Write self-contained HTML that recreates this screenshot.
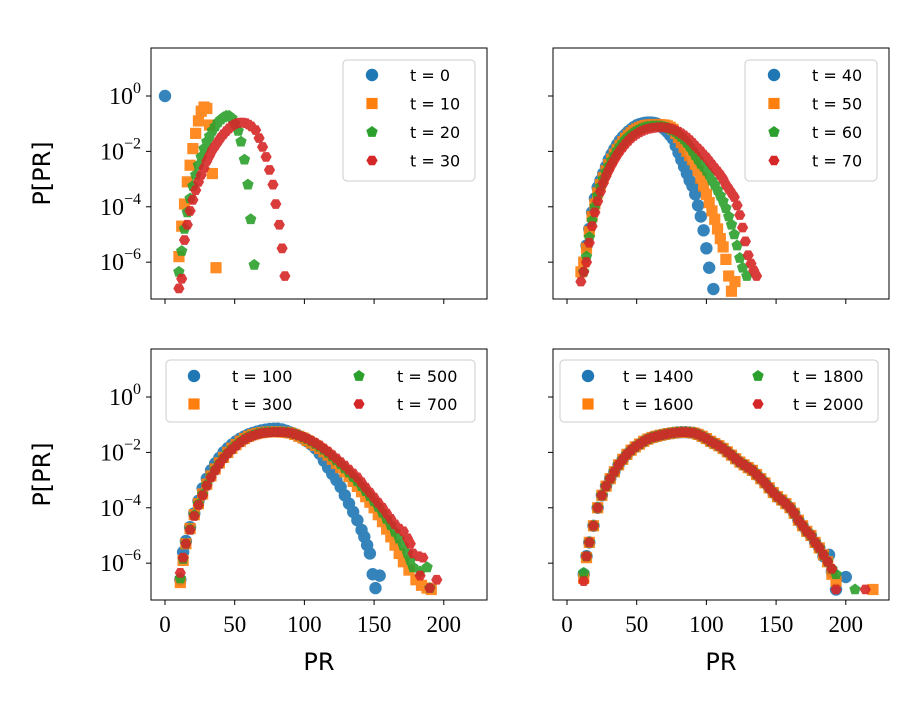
<!DOCTYPE html>
<html><head><meta charset="utf-8"><style>
html,body{margin:0;padding:0;background:#fff;}
svg{display:block;}
</style></head><body>
<svg id="chart" width="920" height="727" viewBox="0 0 920 727" xmlns="http://www.w3.org/2000/svg"></svg>
<script>
// ---- data: [PR, log10 P[PR]] ----
const tl_t0  = [[0,0]];
const tl_t10 = [[10,-5.8],[12,-4.7],[14,-3.9],[16,-3.1],[18,-2.5],[20,-1.9],[22,-1.35],[24,-0.9],[26,-0.55],[28,-0.4],[30,-0.45],[32,-1.05],[34,-2.8],[36.6,-6.2]];
const tl_t20 = [[10,-6.35],[12,-5.6],[14,-4.8],[16,-4.2],[18,-3.7],[20,-3.25],[22,-2.85],[24,-2.5],[26,-2.2],[28,-1.9],[30,-1.65],[32,-1.45],[34,-1.25],[36,-1.1],[38,-0.95],[40,-0.85],[42,-0.77],[44,-0.72],[46,-0.72],[48,-0.8],[50,-1.0],[52.5,-1.26],[54.5,-1.65],[57,-2.3],[59.5,-3.2],[61.5,-4.45],[64,-6.1]];
const tl_t30 = [[10,-6.95],[12,-6.6],[14,-5.2],[16,-4.65],[18,-4.15],[20,-3.75],[22,-3.4],[24,-3.1],[26,-2.85],[28,-2.6],[30,-2.35],[32,-2.15],[34,-1.95],[36,-1.8],[38,-1.65],[40,-1.5],[42,-1.38],[44,-1.27],[46,-1.17],[48,-1.08],[50,-1.02],[52,-0.98],[54,-0.96],[56,-0.96],[58,-0.98],[60,-1.03],[62,-1.1],[65,-1.23],[67.5,-1.52],[70,-1.84],[72.5,-2.2],[75,-2.67],[77.5,-3.2],[79.5,-3.9],[82,-4.65],[84,-5.5],[86,-6.5]];

const tr_t40 = [[14,-5.4],[16,-4.8],[18,-4.2],[20,-3.7],[22,-3.3],[24,-3.05],[26,-2.8],[28,-2.55],[30,-2.3],[32,-2.1],[34,-1.92],[36,-1.75],[38,-1.6],[40,-1.48],[42,-1.38],[44,-1.28],[46,-1.2],[48,-1.12],[50,-1.06],[52,-1.02],[54,-0.99],[56,-0.97],[58,-0.96],[60,-0.96],[62,-0.97],[64,-0.99],[66,-1.04],[68,-1.12],[70,-1.2],[72,-1.3],[74,-1.42],[76,-1.55],[78,-1.8],[80,-2.05],[82,-2.3],[84,-2.55],[86,-2.8],[88,-3.05],[90,-3.25],[92,-3.55],[94,-3.95],[96,-4.35],[98,-4.85],[100,-5.5],[102,-6.2],[105,-6.97]];
const tr_t50 = [[10,-6.35],[12,-6.0],[14,-5.5],[16,-4.9],[18,-4.35],[20,-3.9],[22,-3.5],[24,-3.2],[26,-2.95],[28,-2.7],[30,-2.48],[32,-2.28],[34,-2.1],[36,-1.93],[38,-1.78],[40,-1.65],[42,-1.53],[44,-1.42],[46,-1.33],[48,-1.25],[50,-1.19],[52,-1.14],[54,-1.1],[56,-1.07],[58,-1.05],[60,-1.04],[62,-1.03],[64,-1.03],[66,-1.03],[68,-1.04],[70,-1.05],[72,-1.08],[74,-1.13],[76,-1.2],[78,-1.35],[80,-1.5],[82,-1.68],[84,-1.85],[86,-2.0],[88,-2.15],[90,-2.3],[92,-2.47],[94,-2.7],[96,-2.97],[98,-3.25],[100,-3.55],[102,-3.85],[104,-4.15],[106,-4.45],[108,-4.8],[110,-5.15],[112,-5.45],[114,-5.9],[116,-6.5],[118,-7.05],[120.5,-6.7]];
const tr_t60 = [[12,-6.35],[14,-5.8],[16,-5.1],[18,-4.5],[20,-4.0],[22,-3.6],[24,-3.27],[26,-3.0],[28,-2.75],[30,-2.53],[32,-2.33],[34,-2.15],[36,-1.98],[38,-1.83],[40,-1.7],[42,-1.58],[44,-1.48],[46,-1.39],[48,-1.31],[50,-1.25],[52,-1.2],[54,-1.16],[56,-1.13],[58,-1.11],[60,-1.1],[62,-1.09],[64,-1.09],[66,-1.09],[68,-1.1],[70,-1.12],[72,-1.15],[74,-1.19],[76,-1.24],[78,-1.3],[80,-1.38],[82,-1.47],[84,-1.57],[86,-1.7],[88,-1.83],[90,-1.98],[92,-2.14],[94,-2.3],[96,-2.45],[98,-2.55],[100,-2.7],[102,-2.85],[104,-3.05],[106,-3.2],[108,-3.4],[110,-3.6],[112,-3.8],[114,-4.05],[116,-4.35],[118,-4.65],[120,-5.0],[122,-5.4],[124,-5.85],[126,-6.2],[129,-6.5]];
const tr_t70 = [[10,-6.7],[12,-6.35],[14,-6.0],[16,-5.3],[18,-4.7],[20,-4.2],[22,-3.8],[24,-3.45],[26,-3.15],[28,-2.9],[30,-2.68],[32,-2.48],[34,-2.3],[36,-2.13],[38,-1.98],[40,-1.85],[42,-1.73],[44,-1.62],[46,-1.52],[48,-1.44],[50,-1.37],[52,-1.31],[54,-1.26],[56,-1.22],[58,-1.19],[60,-1.17],[62,-1.15],[64,-1.14],[66,-1.13],[68,-1.13],[70,-1.14],[72,-1.15],[74,-1.17],[76,-1.2],[78,-1.24],[80,-1.29],[82,-1.35],[84,-1.42],[86,-1.5],[88,-1.59],[90,-1.69],[92,-1.8],[94,-1.9],[96,-2.0],[98,-2.12],[100,-2.22],[102,-2.35],[104,-2.48],[106,-2.6],[108,-2.72],[110,-2.85],[112,-3.0],[114,-3.2],[116,-3.35],[118,-3.5],[120,-3.65],[122,-3.95],[124,-4.3],[126,-4.75],[128,-5.25],[130,-5.75],[132,-6.05],[134,-6.3],[136,-6.5]];

const bl_t100 = [[11,-6.6],[13,-5.6],[15,-5.2],[18,-4.7],[21,-4.2],[24,-3.75],[27,-3.3],[30,-2.95],[33,-2.65],[36,-2.4],[39,-2.2],[42,-2.0],[45,-1.85],[48,-1.72],[51,-1.6],[54,-1.5],[57,-1.42],[60,-1.35],[63,-1.3],[66,-1.25],[69,-1.21],[72,-1.18],[75,-1.16],[78,-1.15],[81,-1.15],[84,-1.17],[87,-1.22],[90,-1.28],[93,-1.34],[96,-1.41],[99,-1.5],[102,-1.6],[105,-1.72],[108,-1.86],[111,-2.05],[114,-2.3],[117,-2.55],[120,-2.78],[123,-3.0],[126,-3.25],[129,-3.55],[132,-3.85],[135,-4.15],[138,-4.45],[141,-4.8],[143,-5.05],[145,-5.35],[147,-5.65],[149,-6.4],[151,-6.9],[154,-6.45]];
const bl_t300 = [[11,-6.7],[13,-5.9],[15,-5.3],[18,-4.75],[21,-4.25],[24,-3.85],[27,-3.5],[30,-3.15],[33,-2.85],[36,-2.6],[39,-2.38],[42,-2.18],[45,-2.0],[48,-1.85],[51,-1.72],[54,-1.6],[57,-1.5],[60,-1.42],[63,-1.36],[66,-1.32],[69,-1.29],[72,-1.27],[75,-1.26],[78,-1.26],[81,-1.26],[84,-1.27],[87,-1.28],[90,-1.3],[93,-1.35],[96,-1.42],[99,-1.48],[102,-1.57],[105,-1.66],[108,-1.75],[111,-1.86],[114,-1.98],[117,-2.1],[120,-2.25],[123,-2.4],[126,-2.55],[129,-2.7],[132,-2.87],[135,-3.05],[138,-3.23],[141,-3.42],[144,-3.6],[147,-3.8],[150,-4.0],[153,-4.25],[156,-4.5],[159,-4.77],[162,-5.05],[165,-5.35],[168,-5.65],[171,-5.95],[175,-6.25],[180,-6.6],[184,-6.8],[188,-6.9],[191,-6.95]];
const bl_t500 = [[11,-6.55],[13,-5.85],[15,-5.3],[18,-4.78],[21,-4.27],[24,-3.87],[27,-3.52],[30,-3.17],[33,-2.87],[36,-2.62],[39,-2.4],[42,-2.2],[45,-2.02],[48,-1.87],[51,-1.74],[54,-1.62],[57,-1.52],[60,-1.44],[63,-1.38],[66,-1.33],[69,-1.3],[72,-1.28],[75,-1.27],[78,-1.27],[81,-1.27],[84,-1.27],[87,-1.28],[90,-1.3],[93,-1.34],[96,-1.39],[99,-1.45],[102,-1.52],[105,-1.6],[108,-1.69],[111,-1.79],[114,-1.9],[117,-2.02],[120,-2.15],[123,-2.29],[126,-2.43],[129,-2.58],[132,-2.73],[135,-2.89],[138,-3.05],[141,-3.22],[144,-3.4],[147,-3.58],[150,-3.77],[153,-3.97],[156,-4.18],[159,-4.4],[162,-4.63],[165,-4.87],[168,-5.12],[171,-5.38],[174,-5.65],[176,-5.9],[178,-6.15],[183,-6.3],[188,-6.15],[190,-6.9]];
const bl_t700 = [[11,-6.35],[13,-5.8],[15,-5.3],[18,-4.8],[21,-4.3],[24,-3.9],[27,-3.55],[30,-3.2],[33,-2.9],[36,-2.65],[39,-2.42],[42,-2.22],[45,-2.04],[48,-1.89],[51,-1.76],[54,-1.64],[57,-1.54],[60,-1.46],[63,-1.4],[66,-1.35],[69,-1.31],[72,-1.29],[75,-1.28],[78,-1.27],[81,-1.27],[84,-1.27],[87,-1.28],[90,-1.3],[93,-1.34],[96,-1.39],[99,-1.44],[102,-1.5],[105,-1.58],[108,-1.66],[111,-1.75],[114,-1.86],[117,-1.97],[120,-2.1],[123,-2.22],[126,-2.35],[129,-2.48],[132,-2.62],[135,-2.76],[138,-2.9],[141,-3.08],[144,-3.27],[147,-3.45],[150,-3.63],[153,-3.82],[156,-4.0],[159,-4.2],[162,-4.4],[165,-4.6],[168,-4.75],[171,-4.85],[174,-5.1],[176,-5.3],[178,-5.65],[182,-5.75],[185,-5.8],[183,-6.45],[190,-6.9],[195,-6.6]];

const br_t1400 = [[12,-6.4],[14,-5.75],[16,-5.25],[19,-4.65],[22,-4.0],[25,-3.55],[28,-3.22],[31,-2.95],[34,-2.7],[37,-2.45],[40,-2.25],[43,-2.07],[46,-1.92],[49,-1.8],[52,-1.7],[55,-1.6],[58,-1.52],[61,-1.46],[64,-1.42],[67,-1.38],[70,-1.35],[73,-1.32],[76,-1.3],[79,-1.28],[82,-1.27],[85,-1.27],[88,-1.28],[91,-1.3],[94,-1.35],[97,-1.42],[100,-1.5],[103,-1.6],[106,-1.68],[109,-1.76],[112,-1.86],[115,-1.98],[118,-2.1],[121,-2.23],[124,-2.35],[127,-2.45],[130,-2.55],[133,-2.65],[136,-2.8],[139,-2.95],[142,-3.1],[145,-3.28],[148,-3.45],[151,-3.6],[154,-3.72],[157,-3.85],[160,-4.0],[163,-4.2],[166,-4.45],[169,-4.65],[172,-4.85],[175,-5.0],[178,-5.25],[181,-5.45],[184,-5.75],[188,-5.7],[190,-6.3],[193,-6.95],[200,-6.5]];
const br_t1600 = [[12,-6.55],[14,-5.8],[16,-5.25],[19,-4.65],[22,-4.0],[25,-3.55],[28,-3.22],[31,-2.95],[34,-2.7],[37,-2.45],[40,-2.25],[43,-2.07],[46,-1.92],[49,-1.8],[52,-1.7],[55,-1.6],[58,-1.52],[61,-1.46],[64,-1.42],[67,-1.38],[70,-1.35],[73,-1.32],[76,-1.3],[79,-1.28],[82,-1.27],[85,-1.27],[88,-1.28],[91,-1.3],[94,-1.35],[97,-1.42],[100,-1.5],[103,-1.6],[106,-1.68],[109,-1.76],[112,-1.86],[115,-1.98],[118,-2.1],[121,-2.23],[124,-2.35],[127,-2.45],[130,-2.55],[133,-2.65],[136,-2.8],[139,-2.95],[142,-3.1],[145,-3.28],[148,-3.45],[151,-3.6],[154,-3.72],[157,-3.85],[160,-4.0],[163,-4.2],[166,-4.45],[169,-4.65],[172,-4.85],[175,-5.0],[178,-5.25],[181,-5.45],[184,-5.7],[187,-5.95],[190,-6.4],[193,-6.65],[219.5,-6.95]];
const br_t1800 = [[12,-6.35],[14,-5.75],[16,-5.25],[19,-4.65],[22,-4.0],[25,-3.55],[28,-3.22],[31,-2.95],[34,-2.7],[37,-2.45],[40,-2.25],[43,-2.07],[46,-1.92],[49,-1.8],[52,-1.7],[55,-1.6],[58,-1.52],[61,-1.46],[64,-1.42],[67,-1.38],[70,-1.35],[73,-1.32],[76,-1.3],[79,-1.28],[82,-1.27],[85,-1.27],[88,-1.28],[91,-1.3],[94,-1.35],[97,-1.42],[100,-1.5],[103,-1.6],[106,-1.68],[109,-1.76],[112,-1.86],[115,-1.98],[118,-2.1],[121,-2.23],[124,-2.35],[127,-2.45],[130,-2.55],[133,-2.65],[136,-2.8],[139,-2.95],[142,-3.1],[145,-3.28],[148,-3.45],[151,-3.6],[154,-3.72],[157,-3.85],[160,-4.0],[163,-4.2],[166,-4.45],[169,-4.65],[172,-4.85],[175,-5.0],[178,-5.25],[181,-5.45],[184,-5.7],[187,-5.95],[190,-6.2],[193,-6.4],[206.6,-6.95]];
const br_t2000 = [[12,-6.65],[14,-5.75],[16,-5.25],[19,-4.65],[22,-4.0],[25,-3.55],[28,-3.22],[31,-2.95],[34,-2.7],[37,-2.45],[40,-2.25],[43,-2.07],[46,-1.92],[49,-1.8],[52,-1.7],[55,-1.6],[58,-1.52],[61,-1.46],[64,-1.42],[67,-1.38],[70,-1.35],[73,-1.32],[76,-1.3],[79,-1.28],[82,-1.27],[85,-1.27],[88,-1.28],[91,-1.3],[94,-1.35],[97,-1.42],[100,-1.5],[103,-1.6],[106,-1.68],[109,-1.76],[112,-1.86],[115,-1.98],[118,-2.1],[121,-2.23],[124,-2.35],[127,-2.45],[130,-2.55],[133,-2.65],[136,-2.8],[139,-2.95],[142,-3.1],[145,-3.28],[148,-3.45],[151,-3.6],[154,-3.72],[157,-3.85],[160,-4.0],[163,-4.2],[166,-4.45],[169,-4.65],[172,-4.85],[175,-5.0],[178,-5.25],[181,-5.45],[184,-5.7],[187,-5.95],[190,-6.2],[193,-6.95],[214,-6.95]];

const xTicks = [0,50,100,150,200];
const yTicks = [0,-2,-4,-6];
const yTickLabels = ["0","\u22122","\u22124","\u22126"];

// ---- rendering ----
const NS = "http://www.w3.org/2000/svg";
const svg = document.getElementById('chart');
const COLORS = ["#1f77b4","#ff7f0e","#2ca02c","#d62728"];
const SHAPES = ["circle","square","pentagon","hexagon"];
const XMIN = -10.04, XMAX = 231.0, YMAX = 1.733, YMIN = -7.33;

function mk(tag, attrs, parent){
  const e = document.createElementNS(NS, tag);
  for (const k in attrs) e.setAttribute(k, attrs[k]);
  (parent || svg).appendChild(e);
  return e;
}
function polyPts(cx, cy, r, n, rot){
  const p = [];
  for (let i=0;i<n;i++){ const a = rot + i*2*Math.PI/n; p.push((cx+r*Math.cos(a)).toFixed(1)+","+(cy+r*Math.sin(a)).toFixed(1)); }
  return p.join(" ");
}
function marker(g, shape, cx, cy, color){
  let e;
  if (shape==="circle") e = mk('circle',{cx:cx,cy:cy,r:6.2,fill:color},g);
  else if (shape==="square") e = mk('rect',{x:cx-5.6,y:cy-5.6,width:11.2,height:11.2,fill:color},g);
  else if (shape==="pentagon") e = mk('polygon',{points:polyPts(cx,cy,6,5,-Math.PI/2),fill:color},g);
  else e = mk('polygon',{points:polyPts(cx,cy,5.6,6,0),fill:color},g);
  return e;
}

const panels = [
  {name:"top-left", x:151, y:48, series:[tl_t0,tl_t10,tl_t20,tl_t30], labels:["t = 0","t = 10","t = 20","t = 30"], yLabels:true, xLabels:false, legend:"col", lx:343, ly:60},
  {name:"top-right", x:553, y:48, series:[tr_t40,tr_t50,tr_t60,tr_t70], labels:["t = 40","t = 50","t = 60","t = 70"], yLabels:false, xLabels:false, legend:"col", lx:745, ly:60},
  {name:"bottom-left", x:151, y:349, series:[bl_t100,bl_t300,bl_t500,bl_t700], labels:["t = 100","t = 300","t = 500","t = 700"], yLabels:true, xLabels:true, legend:"grid", lx:166, ly:360, lw:309, c2:165},
  {name:"bottom-right", x:553, y:349, series:[br_t1400,br_t1600,br_t1800,br_t2000], labels:["t = 1400","t = 1600","t = 1800","t = 2000"], yLabels:false, xLabels:true, legend:"grid", lx:560, ly:360, lw:318, c2:170}
];
const W = 336, H = 251;

panels.forEach(p => {
  const g = mk('g',{});
  
  
  const sx = v => p.x + (v - XMIN) / (XMAX - XMIN) * W;
  const sy = v => p.y + (YMAX - v) / (YMAX - YMIN) * H;
  const cid = 'clip-' + p.name;
  const cp = mk('clipPath',{id:cid},g); mk('rect',{x:p.x,y:p.y,width:W,height:H},cp);
  const plot = mk('g',{'clip-path':'url(#'+cid+')'},g);
  
  
  p.series.forEach((s, si) => {
    const sg = mk('g',{opacity:0.9},plot);
    
    
    s.forEach(pt => {
      const m = marker(sg, SHAPES[si], sx(pt[0]), sy(pt[1]), COLORS[si]);
      
      
    });
  });
  const fr = mk('rect',{x:p.x,y:p.y,width:W,height:H,fill:'none',stroke:'#000','stroke-width':1},g);
  
  
  xTicks.forEach(t => {
    const X = sx(t);
    mk('line',{x1:X,y1:p.y+H,x2:X,y2:p.y+H+5,stroke:'#000','stroke-width':1},g);
    if (p.xLabels){
      const tx = mk('text',{x:X,y:p.y+H+32,'text-anchor':'middle','font-family':'"Liberation Serif",serif','font-size':23},g);
      tx.textContent = t;
      
      
    }
  });
  yTicks.forEach((t, i) => {
    const Y = sy(t);
    mk('line',{x1:p.x-5,y1:Y,x2:p.x,y2:Y,stroke:'#000','stroke-width':1},g);
    if (p.yLabels){
      const tx = mk('text',{x:p.x-10,y:Y+8,'text-anchor':'end','font-family':'"Liberation Serif",serif','font-size':24},g);
      
      
      const a = mk('tspan',{},tx); a.textContent = "10";
      const b = mk('tspan',{'font-size':16,dy:-11},tx); b.textContent = yTickLabels[i];
    }
  });
  const lg = mk('g',{},g);
  
  
  if (p.legend === "col"){
    mk('rect',{x:p.lx,y:p.ly,width:132,height:121,rx:4,fill:'#fff','fill-opacity':0.8,stroke:'#ccc','stroke-width':1},lg);
    p.labels.forEach((l, i) => {
      const cy = p.ly + 15 + i*28.5;
      marker(lg, SHAPES[i], p.lx+29, cy, COLORS[i]);
      const tx = mk('text',{x:p.lx+67,y:cy+6,'font-family':'"DejaVu Sans",sans-serif','font-size':16},lg);
      tx.textContent = l;
      
      
    });
  } else {
    mk('rect',{x:p.lx,y:p.ly,width:p.lw,height:62,rx:4,fill:'#fff','fill-opacity':0.8,stroke:'#ccc','stroke-width':1},lg);
    p.labels.forEach((l, i) => {
      const col = Math.floor(i/2), row = i%2;
      const cy = p.ly + 16 + row*28;
      const bx = p.lx + col*p.c2;
      marker(lg, SHAPES[i], bx+28, cy, COLORS[i]);
      const tx = mk('text',{x:bx+(p.name==="bottom-left"?66:63),y:cy+6,'font-family':'"DejaVu Sans",sans-serif','font-size':16},lg);
      tx.textContent = l;
      
      
    });
  }
  if (p.yLabels){
    const yl = mk('text',{x:0,y:0,transform:'translate(50,'+(p.y+H/2)+') rotate(-90)','text-anchor':'middle','font-family':'"DejaVu Sans",sans-serif','font-size':24},g);
    yl.textContent = "P[PR]";
    
    
  }
  if (p.xLabels){
    const xl = mk('text',{x:p.x+W/2,y:670,'text-anchor':'middle','font-family':'"DejaVu Sans",sans-serif','font-size':24},g);
    xl.textContent = "PR";
    
    
  }
});
</script>
</body></html>
